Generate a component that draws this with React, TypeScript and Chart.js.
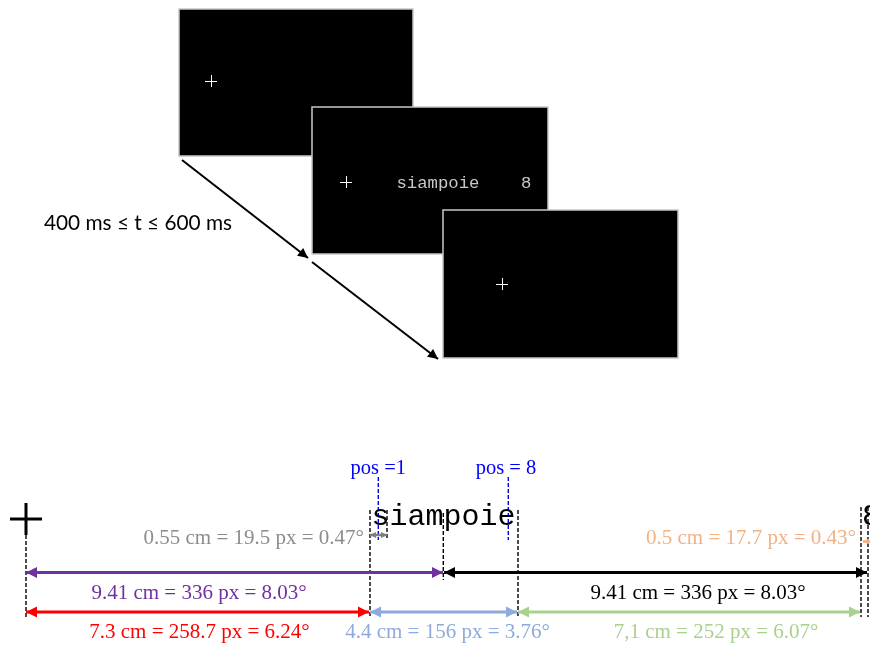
import { useEffect, useRef } from 'react';
import { Chart, registerables } from 'chart.js';

Chart.register(...registerables);

// top: the three stimulus screens
const panelLeft = [179, 312, 443];
const panelTop = [9, 107, 210];
const panelRight = [413, 548, 678];
const panelBottom = [156, 254, 358];
const fixationX = [211, 346, 502];
const fixationY = [81, 182, 284];
const stimulusText = 'siampoie    8';
const timingLabel = '400 ms ≤ t ≤ 600 ms';
const flowFromX = [182, 312];
const flowFromY = [160, 262];
const flowToX = [308, 438];
const flowToY = [258, 359];

// bottom: measurements
const spanLabels = [
  '9.41 cm = 336 px = 8.03°',
  '9.41 cm = 336 px = 8.03°',
  '7.3 cm = 258.7 px = 6.24°',
  '4.4 cm = 156 px = 3.76°',
  '7,1 cm = 252 px = 6.07°',
];
const spanStart = [26, 444, 26, 370, 518];
const spanEnd = [443, 867, 369, 517, 860];
const spanRow = [572.5, 572.5, 612, 612, 612];
const spanLabelX = [199, 698, 199.5, 447.5, 716];
const spanLabelY = [593.5, 593.5, 632, 632, 632];
const spanColors = ['#7030A0', '#000000', '#FF0000', '#8FAADC', '#A9D18E'];

const gapLabels = ['0.55 cm = 19.5 px = 0.47°', '0.5 cm = 17.7 px = 0.43°'];
const gapStart = [370, 863];
const gapEnd = [387, 885];
const gapRow = [535, 541.5];
const gapLabelRight = [364, 856];
const gapLabelY = [538.5, 538.5];
const gapColors = ['#7F7F7F', '#F4B183'];
const gapTextColors = ['#8C8C8C', '#F4B183'];

const guideX = [26, 370, 387, 443.3, 518, 861, 868];
const guideTop = [535, 510, 510, 513, 510, 507, 507];
const guideBottom = [617, 617, 540, 580, 617, 617, 617];

const posLabels = ['pos =1', 'pos = 8'];
const posX = [378.3, 508.3];
const posLabelX = [378.3, 506];
const word = 'siampoie';
const wordX = 371.5;
const trailingChar = '8';

const seg = (x0: number, y0: number, x1: number, y1: number) => [{ x: x0, y: y0 }, { x: x1, y: y1 }];

const App = () => {
  const chartRef = useRef<HTMLCanvasElement | null>(null);
  useEffect(() => {
    if (chartRef.current === null) return () => {};

    const datasets: any[] = [];
    spanStart.forEach((s, i) => {
      datasets.push({
        data: seg(s, spanRow[i], spanEnd[i], spanRow[i]),
        borderColor: spanColors[i],
        borderWidth: 3,
        showLine: true,
        pointRadius: 0,
        heads: [true, true],
      });
    });
    gapStart.forEach((s, i) => {
      datasets.push({
        data: seg(s, gapRow[i], gapEnd[i], gapRow[i]),
        borderColor: gapColors[i],
        borderWidth: 2.5,
        showLine: true,
        pointRadius: 0,
        heads: [true, i === 0],
        headSize: 6,
      });
    });
    flowFromX.forEach((fx, i) => {
      datasets.push({
        data: seg(fx, flowFromY[i], flowToX[i], flowToY[i]),
        borderColor: '#000',
        borderWidth: 2,
        showLine: true,
        pointRadius: 0,
        heads: [false, true],
        headSize: 10,
      });
    });
    guideX.forEach((gx, i) => {
      datasets.push({
        data: seg(gx, guideTop[i], gx, guideBottom[i]),
        borderColor: '#000',
        borderWidth: 1.4,
        borderDash: [4, 2],
        showLine: true,
        pointRadius: 0,
      });
    });
    posX.forEach((p) => {
      datasets.push({
        data: seg(p, 477, p, 540),
        borderColor: '#0000FF',
        borderWidth: 1.4,
        borderDash: [4, 2],
        showLine: true,
        pointRadius: 0,
      });
    });

    const aChart = new Chart(chartRef.current, {
      type: 'scatter',
      data: { datasets },
      plugins: [{
        id: 'sketch',
        beforeDatasetsDraw(chart: any) {
          const { ctx, scales: { x, y } } = chart;
          ctx.save();
          // 화면 패널
          panelLeft.forEach((l, i) => {
            const left = x.getPixelForValue(l);
            const top = y.getPixelForValue(panelTop[i]);
            const w = x.getPixelForValue(panelRight[i]) - left;
            const h = y.getPixelForValue(panelBottom[i]) - top;
            ctx.fillStyle = '#000';
            ctx.fillRect(left, top, w, h);
            ctx.strokeStyle = '#C8C8C8';
            ctx.lineWidth = 1.5;
            ctx.strokeRect(left, top, w, h);
            const cx = x.getPixelForValue(fixationX[i]);
            const cy = y.getPixelForValue(fixationY[i]);
            ctx.strokeStyle = '#fff';
            ctx.lineWidth = 1;
            ctx.beginPath();
            ctx.moveTo(cx - 6, cy + 0.5);
            ctx.lineTo(cx + 6, cy + 0.5);
            ctx.moveTo(cx + 0.5, cy - 6);
            ctx.lineTo(cx + 0.5, cy + 6);
            ctx.stroke();
            if (i === 1) {
              ctx.fillStyle = '#C8C8C8';
              ctx.font = '17.3px "Liberation Mono", monospace';
              ctx.textBaseline = 'alphabetic';
              ctx.textAlign = 'left';
              ctx.fillText(stimulusText, x.getPixelForValue(396.5), y.getPixelForValue(188));
            }
          });
          ctx.fillStyle = '#000';
          ctx.font = '20.8px Lato, "Open Sans", sans-serif';
          ctx.textAlign = 'left';
          ctx.textBaseline = 'middle';
          ctx.fillText(timingLabel, x.getPixelForValue(44), y.getPixelForValue(223), 190);
          ctx.restore();
        },
        afterDatasetsDraw(chart: any) {
          const { ctx, scales: { x, y } } = chart;
          ctx.save();
          // 화살촉
          chart.data.datasets.forEach((ds: any, di: number) => {
            if (!ds.heads) return;
            const pts = chart.getDatasetMeta(di).data;
            const a = pts[0];
            const b = pts[1];
            const len = Math.hypot(b.x - a.x, b.y - a.y);
            const ux = (b.x - a.x) / len;
            const uy = (b.y - a.y) / len;
            const size = ds.headSize ?? 11;
            const half = size * 0.5;
            ctx.fillStyle = ds.borderColor;
            const head = (tx: number, ty: number, dx: number, dy: number) => {
              ctx.beginPath();
              ctx.moveTo(tx, ty);
              ctx.lineTo(tx - dx * size - dy * half, ty - dy * size + dx * half);
              ctx.lineTo(tx - dx * size + dy * half, ty - dy * size - dx * half);
              ctx.closePath();
              ctx.fill();
            };
            if (ds.heads[0]) head(a.x, a.y, -ux, -uy);
            if (ds.heads[1]) head(b.x, b.y, ux, uy);
          });

          // 고정점 십자
          const cx = x.getPixelForValue(26);
          const cy = y.getPixelForValue(519);
          ctx.strokeStyle = '#000';
          ctx.lineWidth = 3;
          ctx.beginPath();
          ctx.moveTo(cx - 16, cy);
          ctx.lineTo(cx + 16, cy);
          ctx.moveTo(cx, cy - 16);
          ctx.lineTo(cx, cy + 16);
          ctx.stroke();

          // 단어
          ctx.fillStyle = '#000';
          ctx.font = '30px "Liberation Mono", monospace';
          ctx.textAlign = 'left';
          ctx.textBaseline = 'alphabetic';
          ctx.fillText(word, x.getPixelForValue(wordX), y.getPixelForValue(525));
          ctx.fillText(trailingChar, x.getPixelForValue(862), y.getPixelForValue(525));

          // 측정 라벨
          ctx.font = '21px "Liberation Serif", serif';
          ctx.textBaseline = 'middle';
          ctx.textAlign = 'center';
          spanLabels.forEach((t, i) => {
            ctx.fillStyle = spanColors[i];
            ctx.fillText(t, x.getPixelForValue(spanLabelX[i]), y.getPixelForValue(spanLabelY[i]));
          });
          ctx.textAlign = 'right';
          gapLabels.forEach((t, i) => {
            ctx.fillStyle = gapTextColors[i];
            ctx.fillText(t, x.getPixelForValue(gapLabelRight[i]), y.getPixelForValue(gapLabelY[i]));
          });
          ctx.font = '20.5px "Liberation Serif", serif';
          ctx.textAlign = 'center';
          ctx.fillStyle = '#0000FF';
          posLabels.forEach((t, i) => {
            ctx.fillText(t, x.getPixelForValue(posLabelX[i]), y.getPixelForValue(469));
          });
          ctx.restore();
        },
      }],
      options: {
        animation: false,
        responsive: false,
        maintainAspectRatio: false,
        devicePixelRatio: 1,
        layout: { padding: 0 },
        plugins: {
          legend: { display: false },
          tooltip: { enabled: false },
        },
        scales: {
          x: { type: 'linear', min: 0, max: 870, display: false },
          y: { type: 'linear', min: 0, max: 646, reverse: true, display: false },
        },
      },
    });
    return () => {
      aChart.destroy();
    };
  }, []);

  return (
    <div style={{ position: 'fixed', left: 0, top: 0, width: 870, height: 646, background: '#fff' }}>
      <canvas ref={chartRef} width={870} height={646} style={{ display: 'block' }} />
    </div>
  );
};

export default App;
